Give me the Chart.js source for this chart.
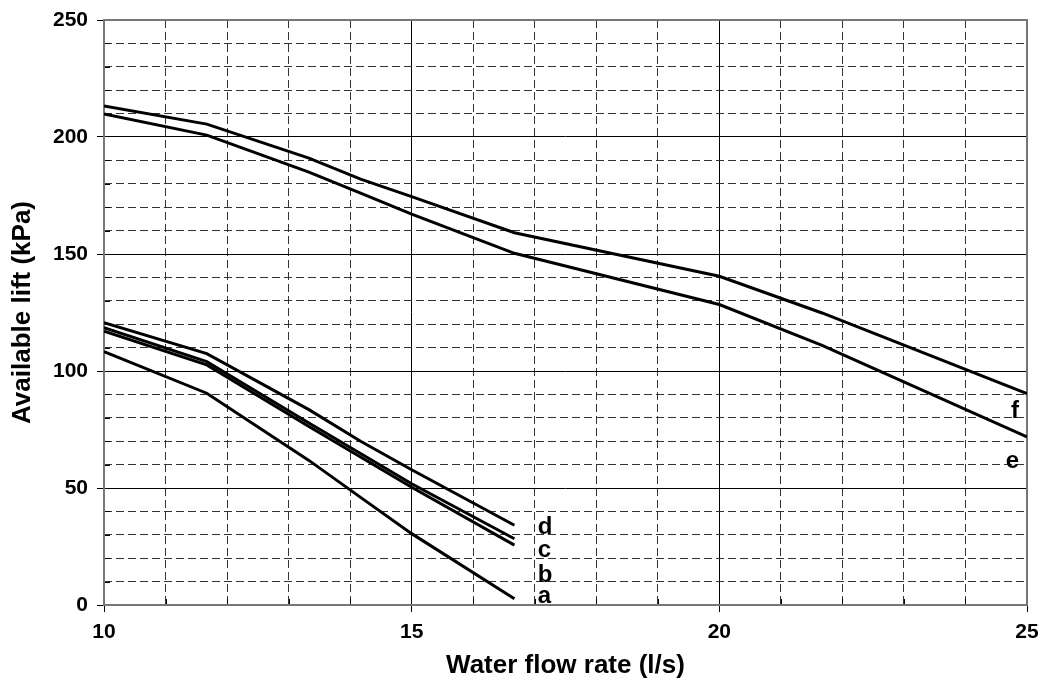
<!DOCTYPE html>
<html>
<head>
<meta charset="utf-8">
<script src="https://cdn.jsdelivr.net/npm/chart.js@4.4.1/dist/chart.umd.min.js"></script>
<style>
  html, body { margin: 0; padding: 0; background: #fff; }
  #wrap { width: 1044px; height: 691px; }
</style>
</head>
<body>
<div id="wrap"><canvas id="chart" width="1044" height="691"></canvas></div>
<script>
// Pump curves: available lift (kPa) versus water flow rate (l/s)
const flowA = [10, 11.67, 13.33, 14.17, 15, 16.67];
const liftA = [108.3, 90.5, 61.8, 46, 30.5, 2.7];
const flowB = [10, 11.67, 13.33, 15, 16.67];
const liftB = [117, 102.6, 76.3, 50.3, 25.6];
const flowC = [10, 11.67, 13.33, 15, 16.67];
const liftC = [118.5, 104, 77.8, 51.8, 28.3];
const flowD = [10, 11.67, 13.33, 14.17, 15, 16.67];
const liftD = [120.6, 107.4, 83.5, 70, 57.8, 34.1];
const flowE = [10, 11.67, 13.33, 14.17, 15, 16.67, 20, 21.67, 25];
const liftE = [209.8, 200.8, 185, 176, 167, 150.3, 128.4, 111, 71.8];
const flowF = [10, 11.67, 13.33, 14.17, 15, 16.67, 20, 21.67, 25];
const liftF = [213.3, 205.5, 191, 182, 174.5, 159.1, 140.5, 124.8, 90.3];

const curveNames = ['a', 'b', 'c', 'd', 'e', 'f'];
const xTickLabels = [10, 15, 20, 25];
const yTickLabels = [0, 50, 100, 150, 200, 250];

// where each curve's letter sits, in axis units
const nameAnchors = [
  { x: 17.05, y: 3.8,  align: 'left' },
  { x: 17.05, y: 12.8, align: 'left' },
  { x: 17.05, y: 23.5, align: 'left' },
  { x: 17.05, y: 33.3, align: 'left' },
  { x: 24.87, y: 61.5, align: 'right' },
  { x: 24.87, y: 82.9, align: 'right' }
];

const FONT = '"Liberation Sans", Arial, sans-serif';

function pts(xs, ys) { return xs.map((x, i) => ({ x: x, y: ys[i] })); }

const series = [
  pts(flowA, liftA), pts(flowB, liftB), pts(flowC, liftC),
  pts(flowD, liftD), pts(flowE, liftE), pts(flowF, liftF)
];

const datasets = series.map((d, i) => ({
  label: curveNames[i],
  data: d,
  borderColor: '#000',
  borderWidth: 3,
  pointRadius: 0,
  fill: false,
  tension: 0
}));

function isMajor(ctx, step) {
  return ctx.tick && Math.abs(ctx.tick.value / step - Math.round(ctx.tick.value / step)) < 1e-6;
}

// frame, inner minor ticks and curve letters
const decor = {
  id: 'decor',
  beforeDatasetsDraw(chart) {
    const { ctx, chartArea: a, scales } = chart;
    ctx.save();
    ctx.strokeStyle = '#000';
    ctx.lineWidth = 1;
    ctx.beginPath();
    for (let v = 10; v < 250; v += 10) {
      if (v % 50 === 0) continue;
      const y = Math.round(scales.y.getPixelForValue(v)) + 0.5;
      ctx.moveTo(a.left, y); ctx.lineTo(a.left + 6, y);
    }
    for (let v = 11; v < 25; v++) {
      if (v % 5 === 0) continue;
      const x = Math.round(scales.x.getPixelForValue(v)) + 0.5;
      ctx.moveTo(x, a.bottom); ctx.lineTo(x, a.bottom - 6);
    }
    ctx.stroke();
    ctx.strokeStyle = '#777';
    ctx.lineWidth = 2;
    ctx.strokeRect(a.left, a.top, a.right - a.left, a.bottom - a.top);
    ctx.restore();
  },
  afterDatasetsDraw(chart) {
    const { ctx, scales } = chart;
    ctx.save();
    ctx.fillStyle = '#000';
    ctx.font = 'bold 24px ' + FONT;
    ctx.textBaseline = 'middle';
    nameAnchors.forEach((p, i) => {
      ctx.textAlign = p.align;
      ctx.fillText(curveNames[i], scales.x.getPixelForValue(p.x), scales.y.getPixelForValue(p.y));
    });
    ctx.restore();
  }
};

new Chart(document.getElementById('chart'), {
  type: 'line',
  data: { datasets: datasets },
  plugins: [decor],
  options: {
    responsive: false,
    animation: false,
    devicePixelRatio: 1,
    layout: { padding: { top: 20, right: 17, left: 0, bottom: 0 } },
    plugins: { legend: { display: false }, tooltip: { enabled: false } },
    scales: {
      x: {
        type: 'linear',
        min: 10, max: 25,
        afterFit(s) { s.height = 86; s.paddingLeft = 0; s.paddingRight = 0; },
        ticks: {
          stepSize: 1,
          autoSkip: false,
          maxRotation: 0,
          padding: 8,
          color: '#000',
          font: { family: FONT, size: 21, weight: 'bold' },
          callback: v => xTickLabels.includes(v) ? String(v) : ''
        },
        grid: {
          color: ctx => isMajor(ctx, 5) ? '#000' : '#333',
          lineWidth: 1,
          tickLength: 7,
          tickColor: ctx => isMajor(ctx, 5) ? '#000' : 'rgba(0,0,0,0)'
        },
        border: {
          display: false,
          dash: ctx => (ctx.tick && !isMajor(ctx, 5)) ? [8, 4] : []
        },
        title: {
          display: true,
          text: 'Water flow rate (l/s)',
          color: '#000',
          font: { family: FONT, size: 26, weight: 'bold' },
          padding: { top: 4, bottom: 10 }
        }
      },
      y: {
        type: 'linear',
        min: 0, max: 250,
        afterFit(s) { s.width = 104; s.paddingTop = 0; s.paddingBottom = 0; },
        ticks: {
          stepSize: 10,
          autoSkip: false,
          padding: 9,
          color: '#000',
          font: { family: FONT, size: 21, weight: 'bold' },
          callback: v => yTickLabels.includes(v) ? String(v) : ''
        },
        grid: {
          color: ctx => isMajor(ctx, 50) ? '#000' : '#333',
          lineWidth: 1,
          tickLength: 7,
          tickColor: ctx => isMajor(ctx, 50) ? '#000' : 'rgba(0,0,0,0)'
        },
        border: {
          display: false,
          dash: ctx => (ctx.tick && !isMajor(ctx, 50)) ? [8, 4] : []
        },
        title: {
          display: true,
          text: 'Available lift (kPa)',
          color: '#000',
          font: { family: FONT, size: 26, weight: 'bold' },
          padding: { top: 7, bottom: 0 }
        }
      }
    }
  }
});
</script>
</body>
</html>
